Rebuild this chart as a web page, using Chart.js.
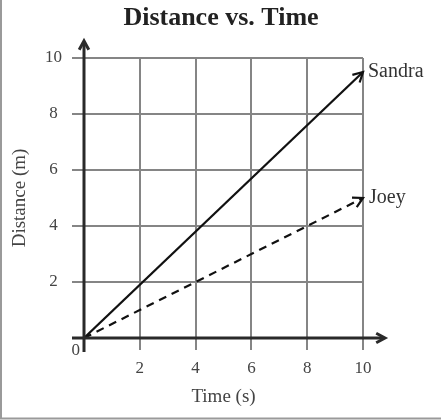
<!DOCTYPE html>
<html>
<head>
<meta charset="utf-8">
<script src="https://cdn.jsdelivr.net/npm/chart.js@4.4.0/dist/chart.umd.min.js"></script>
<style>
  html, body { margin: 0; padding: 0; background: #fff; }
  #wrap { width: 441px; height: 420px; position: relative; }
</style>
</head>
<body>
<div id="wrap"><canvas id="chart" width="441" height="420"></canvas></div>
<script>
const times = [0, 10];
const sandra = [0, 9.5];
const joey = [0, 5];
const tickValues = [0, 2, 4, 6, 8, 10];
const chartTitle = "Distance vs. Time";

const serif = "'Liberation Serif', 'DejaVu Serif', serif";

// frame of the scan, drawn first
const frame = {
  id: "frame",
  beforeDraw(chart) {
    const ctx = chart.ctx;
    ctx.save();
    ctx.strokeStyle = "#9a9a9a";
    ctx.lineWidth = 2;
    ctx.beginPath();
    ctx.moveTo(1, 0);
    ctx.lineTo(1, 418.5);
    ctx.lineTo(441, 418.5);
    ctx.stroke();
    ctx.restore();
  }
};

// arrowheads, axis arrows, title, end labels and the lone "0"
const extras = {
  id: "extras",
  afterDraw(chart) {
    const { ctx, scales: { x, y } } = chart;
    const x0 = x.getPixelForValue(0);
    const y0 = y.getPixelForValue(0);

    function head(px, py, ang, size, width) {
      ctx.save();
      ctx.setLineDash([]);
      ctx.lineWidth = width;
      ctx.beginPath();
      ctx.moveTo(px - size * Math.cos(ang - 0.5), py - size * Math.sin(ang - 0.5));
      ctx.lineTo(px, py);
      ctx.lineTo(px - size * Math.cos(ang + 0.5), py - size * Math.sin(ang + 0.5));
      ctx.stroke();
      ctx.restore();
    }

    ctx.save();
    ctx.strokeStyle = "#2a2a2a";
    ctx.lineWidth = 3;
    ctx.beginPath();
    ctx.moveTo(x0, y0 + 14);
    ctx.lineTo(x0, y.getPixelForValue(10) - 16);
    ctx.moveTo(x0 - 12, y0);
    ctx.lineTo(x.getPixelForValue(10) + 21, y0);
    ctx.stroke();
    head(x0, y.getPixelForValue(10) - 17, -Math.PI / 2, 10, 3);
    head(x.getPixelForValue(10) + 22, y0, 0, 10, 3);

    ctx.strokeStyle = "#111";
    chart.data.datasets.forEach((ds, i) => {
      const pts = chart.getDatasetMeta(i).data;
      const a = pts[pts.length - 2], b = pts[pts.length - 1];
      const ang = Math.atan2(b.y - a.y, b.x - a.x);
      head(b.x, b.y, ang, 11, 2.2);
    });

    ctx.fillStyle = "#222";
    ctx.font = "bold 26px " + serif;
    ctx.textAlign = "center";
    ctx.textBaseline = "middle";
    ctx.fillText(chartTitle, 221, 18);

    ctx.fillStyle = "#333";
    ctx.font = "20px " + serif;
    ctx.textAlign = "left";
    ctx.fillText("Sandra", x.getPixelForValue(10) + 5, y.getPixelForValue(sandra[1]));
    ctx.fillText("Joey", x.getPixelForValue(10) + 6, y.getPixelForValue(joey[1]));
    ctx.font = "17px " + serif;
    ctx.fillStyle = "#444";
    ctx.textAlign = "right";
    ctx.fillText("0", x0 - 4, y0 + 13);
    ctx.restore();
  }
};

new Chart(document.getElementById("chart"), {
  type: "line",
  data: {
    datasets: [
      {
        label: "Sandra",
        data: times.map((t, i) => ({ x: t, y: sandra[i] })),
        borderColor: "#111",
        borderWidth: 2.2,
        pointRadius: 0
      },
      {
        label: "Joey",
        data: times.map((t, i) => ({ x: t, y: joey[i] })),
        borderColor: "#111",
        borderWidth: 2.2,
        borderDash: [8, 6],
        pointRadius: 0
      }
    ]
  },
  options: {
    responsive: false,
    animation: false,
    layout: { padding: { left: 0, right: 78, top: 58, bottom: 0 } },
    plugins: {
      legend: { display: false },
      tooltip: { enabled: false },
      title: { display: false }
    },
    scales: {
      x: {
        type: "linear",
        min: 0,
        max: 10,
        afterBuildTicks: (s) => { s.ticks = tickValues.map(v => ({ value: v })); },
        afterFit: (s) => { s.height = 82; },
        border: { display: false },
        grid: { color: "#858585", lineWidth: 2, tickLength: 12 },
        ticks: {
          color: "#444",
          padding: 8,
          font: { family: serif, size: 17 },
          callback: (v) => (v === 0 ? "" : v)
        },
        title: {
          display: true,
          text: "Time (s)",
          color: "#444",
          font: { family: serif, size: 19 },
          padding: { top: 0, bottom: 12 }
        }
      },
      y: {
        min: 0,
        max: 10,
        afterBuildTicks: (s) => { s.ticks = tickValues.map(v => ({ value: v })); },
        afterFit: (s) => { s.width = 84; },
        border: { display: false },
        grid: { color: "#858585", lineWidth: 2, tickLength: 12 },
        ticks: {
          color: "#444",
          padding: 10,
          crossAlign: "center",
          font: { family: serif, size: 17 },
          callback: (v) => (v === 0 ? "" : v)
        },
        title: {
          display: true,
          text: "Distance (m)",
          color: "#444",
          font: { family: serif, size: 19 },
          padding: { top: 9, bottom: 0 }
        }
      }
    }
  },
  plugins: [frame, extras]
});
</script>
</body>
</html>
